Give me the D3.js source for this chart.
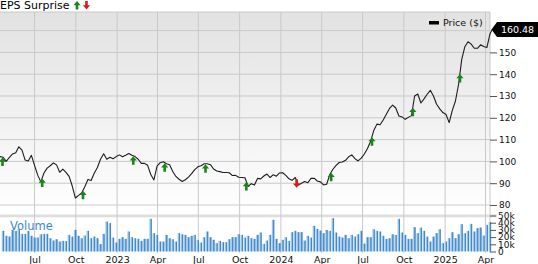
<!DOCTYPE html>
<html><head><meta charset="utf-8">
<script src="https://cdn.jsdelivr.net/npm/d3@7"></script>
<style>
html,body{margin:0;padding:0;background:#fff;}
svg{display:block;font-family:"DejaVu Sans",Verdana,sans-serif;}
</style></head><body>
<svg id="chart" width="538" height="264"></svg>
<script>
// ---------- DATA ----------
const startDate = new Date(2022, 3, 15);   // first weekly close
const endDate = new Date(2025, 3, 11);     // right edge of plot
const priceValues = [
  102.2, 101.9, 100.0, 101.9, 103.4, 104.0, 106.7, 105.2, 100.6, 100.2,
  102.8, 98.2, 93.7, 90.6, 94.7, 96.9, 98.0, 99.3, 98.4, 95.0,
  96.5, 95.0, 93.1, 88.7, 83.2, 84.4, 85.5, 88.4, 91.7, 91.2,
  94.6, 97.2, 101.0, 103.5, 101.0, 101.9, 101.2, 102.2, 103.0, 102.1,
  102.8, 103.6, 102.8, 102.2, 101.0, 99.1, 99.1, 98.2, 94.0, 91.5,
  97.8, 99.4, 99.8, 98.9, 98.5, 95.4, 93.1, 91.8, 90.8, 91.6,
  92.8, 94.4, 96.2, 97.5, 98.0, 98.9, 98.9, 98.5, 96.5, 95.6,
  95.3, 94.9, 94.9, 94.8, 93.5, 93.6, 92.7, 92.6, 92.5, 88.5,
  89.8, 89.2, 92.2, 92.0, 93.3, 94.2, 92.6, 93.9, 93.2, 94.7,
  94.8, 93.6, 92.0, 91.3, 92.6, 89.2, 90.0, 90.8, 90.2, 92.2,
  92.3, 91.0, 90.6, 89.2, 89.5, 94.0, 96.4, 98.2, 99.5, 99.7,
  100.5, 102.1, 103.0, 101.3, 100.2, 101.5, 103.4, 105.9, 109.2, 114.2,
  117.1, 116.8, 119.0, 121.6, 124.3, 125.8, 124.5, 120.8, 120.4, 119.3,
  120.2, 121.0, 130.0, 130.9, 126.8, 128.7, 130.8, 132.6, 130.0, 126.2,
  124.1, 122.4, 121.5, 117.8, 123.4, 127.7, 135.4, 146.8, 152.6, 154.9,
  153.8, 151.9, 151.9, 153.5, 152.7, 152.2, 158.5
];
const lastQuoteDate = new Date(2025, 3, 16);
const lastQuote = 160.48;

// weekly volume in thousands (starting with the 2nd week)
const volumeK = [
  28.7, 21.8, 20.8, 30, 28.7, 31, 24.5, 24.5, 28.7, 21.8,
  19.4, 19.4, 24, 24.5, 24.5, 18.5, 15.3, 17.1, 13.9, 14.8,
  14.4, 23.1, 20.8, 30, 21.8, 18.5, 22.2, 28.7, 18.5, 20.8,
  18.5, 10.2, 24.5, 41.7, 39.4, 19.4, 12.5, 17.6, 19.9, 17.6,
  27.8, 19.9, 18.5, 17.6, 14.8, 17.6, 17.6, 45.4, 25.5, 23.1,
  13.9, 13.9, 23.1, 18.5, 17.1, 13.9, 25.5, 24, 23.1, 19.9,
  21.8, 23.1, 16.2, 12.5, 19.9, 27.8, 19.9, 16.2, 11.6, 14.8,
  13, 13, 17.1, 19.9, 19.9, 24, 23.1, 19.4, 21.8, 18.5,
  17.6, 23.1, 26.4, 10.6, 15.3, 23.1, 44, 17.6, 11.6, 16.2,
  19.9, 14.8, 26.9, 28.7, 26.9, 26.9, 15.3, 21.8, 19.4, 35.6,
  31.5, 29.2, 25.5, 30, 28.7, 46.3, 26.4, 20.8, 19.4, 23.1,
  18.5, 23.1, 20.8, 24, 28.7, 11.1, 19.9, 19.9, 31, 28.7,
  27.8, 21.8, 17.6, 18.5, 24, 23.1, 45.4, 26.4, 23.1, 17.6,
  17.6, 33.8, 25.5, 33.3, 28.7, 20.8, 13.9, 20.8, 25.5, 31,
  11.6, 13.9, 18.5, 26.9, 18.5, 24, 38, 25.5, 28.7, 38.4,
  27.8, 32.4, 33.3, 22.2, 37, 40.7
];

const earningsDates = ["2022-04-19","2022-07-18","2022-10-17","2023-02-06","2023-04-17","2023-07-17",
                       "2023-10-16","2024-02-05","2024-04-22","2024-07-22","2024-10-21","2025-02-03"];
const earningsResult = ["beat","beat","beat","beat","beat","beat","beat","miss","beat","beat","beat","beat"];

const priceTicks = [80, 90, 100, 110, 120, 130, 140, 150, 160];
const volumeTicks = [0, 10, 20, 30, 40, 50];

// ---------- BUILD ----------
const svg = d3.select("#chart");
const plotL = 0, plotR = 490, plotT = 12, priceBottom = 214, volTop = 217, volBottom = 252;

const weekly = priceValues.map((v, i) => ({date: d3.timeWeek.offset(startDate, i), value: v}));
const series = weekly.concat([{date: lastQuoteDate, value: lastQuote}]);
const volData = volumeK.map((v, i) => ({date: d3.timeWeek.offset(startDate, i + 1), value: v}));

const x = d3.scaleTime().domain([startDate, endDate]).range([plotL, plotR]);
const y = d3.scaleLinear().domain([80, 160]).range([205, 30.6]);
const yv = d3.scaleLinear().domain([0, 50]).range([251.5, 215.5]);

const defs = svg.append("defs");
const bg = defs.append("linearGradient").attr("id", "bgGrad").attr("x1", 0).attr("x2", 0).attr("y1", 0).attr("y2", 1);
bg.append("stop").attr("offset", "0%").attr("stop-color", "#e2e2e2");
bg.append("stop").attr("offset", "100%").attr("stop-color", "#ffffff");
const vg = defs.append("linearGradient").attr("id", "volGrad").attr("x1", 0).attr("x2", 1).attr("y1", 0).attr("y2", 0);
vg.append("stop").attr("offset", "0%").attr("stop-color", "#b3d3f1");
vg.append("stop").attr("offset", "45%").attr("stop-color", "#8fbde8");
vg.append("stop").attr("offset", "55%").attr("stop-color", "#4a8fcc");
vg.append("stop").attr("offset", "100%").attr("stop-color", "#3b82c4");

// backgrounds
svg.append("rect").attr("x", plotL).attr("y", plotT).attr("width", plotR - plotL).attr("height", priceBottom - plotT)
  .attr("fill", "url(#bgGrad)");
svg.append("rect").attr("x", plotL).attr("y", 214.5).attr("width", 497).attr("height", 2.8).attr("fill", "#dedede");

// horizontal grid (price)
svg.append("g").selectAll("line").data(priceTicks).join("line")
  .attr("x1", plotL).attr("x2", plotR).attr("y1", d => y(d)).attr("y2", d => y(d))
  .attr("stroke", "#c9c9c9").attr("stroke-width", 1);
svg.append("line").attr("x1", plotL).attr("x2", plotR).attr("y1", plotT).attr("y2", plotT)
  .attr("stroke", "#c9c9c9").attr("stroke-width", 1.2);

// vertical grid
const qTicks = x.ticks(d3.timeMonth.every(3));
svg.append("g").selectAll("line").data(qTicks).join("line")
  .attr("x1", d => x(d)).attr("x2", d => x(d)).attr("y1", plotT).attr("y2", volBottom + 1)
  .attr("stroke", "#c9c9c9").attr("stroke-width", 1);
svg.append("line").attr("x1", plotR).attr("x2", plotR).attr("y1", plotT).attr("y2", volBottom + 1)
  .attr("stroke", "#c9c9c9").attr("stroke-width", 1);

// volume bars
svg.append("g").selectAll("rect").data(volData).join("rect")
  .attr("x", d => x(d.date) - 1.5).attr("width", 2.6)
  .attr("y", d => yv(d.value)).attr("height", d => yv(0) - yv(d.value))
  .attr("fill", "url(#volGrad)");

svg.append("text").attr("x", 10).attr("y", 230).attr("font-size", 11.5).attr("fill", "#3a8bd0").text("Volume");

// price line
const line = d3.line().x(d => x(d.date)).y(d => y(d.value));
svg.append("path").datum(series).attr("d", line).attr("fill", "none")
  .attr("stroke", "#1c1c1c").attr("stroke-width", 1.1).attr("stroke-linejoin", "round");

// earnings arrows
const bis = d3.bisector(d => d.date).left;
function priceAt(date) {
  const i = Math.max(1, Math.min(series.length - 1, bis(series, date)));
  const a = series[i - 1], b = series[i];
  const t = (date - a.date) / (b.date - a.date);
  return a.value + (b.value - a.value) * Math.max(0, Math.min(1, t));
}
function arrowPath(cx, top, up) {
  if (up) return `M${cx},${top} L${cx + 3.6},${top + 4.2} L${cx + 1.3},${top + 4.2} L${cx + 1.3},${top + 8.5} L${cx - 1.3},${top + 8.5} L${cx - 1.3},${top + 4.2} L${cx - 3.6},${top + 4.2} Z`;
  return `M${cx - 1.3},${top} L${cx + 1.3},${top} L${cx + 1.3},${top + 4.3} L${cx + 3.6},${top + 4.3} L${cx},${top + 8.5} L${cx - 3.6},${top + 4.3} L${cx - 1.3},${top + 4.3} Z`;
}
const earn = earningsDates.map((s, i) => ({date: d3.timeParse("%Y-%m-%d")(s), res: earningsResult[i]}));
svg.append("g").selectAll("path").data(earn).join("path")
  .attr("d", d => arrowPath(Math.max(2.5, x(d.date)), y(priceAt(d.date)) + (d.res === "beat" ? 0.5 : -1.5), d.res === "beat"))
  .attr("fill", d => d.res === "beat" ? "#17871a" : "#e8161c");

// right price axis
const yAxis = d3.axisRight(y).tickValues(priceTicks.slice(0, -1)).tickSize(7).tickPadding(2).tickFormat(d3.format("d"));
const gy = svg.append("g").attr("transform", `translate(${plotR},0)`).call(yAxis);
gy.select(".domain").remove();
gy.selectAll("line").attr("stroke", "#555");
gy.selectAll("text").attr("font-size", 9).attr("fill", "#111").attr("font-family", "DejaVu Sans, Verdana, sans-serif");

// right volume axis
const vAxis = d3.axisRight(yv).tickValues(volumeTicks).tickSize(6).tickPadding(2).tickFormat(d => d === 0 ? "0" : d + "k");
const gv = svg.append("g").attr("transform", `translate(${plotR},0)`).call(vAxis);
gv.select(".domain").remove();
gv.selectAll("line").attr("stroke", "#555");
gv.selectAll("text").attr("font-size", 9).attr("fill", "#111").attr("font-family", "DejaVu Sans, Verdana, sans-serif");

// bottom time axis
const fmt = d => d.getMonth() === 0 ? d3.timeFormat("%Y")(d) : d3.timeFormat("%b")(d);
const xAxis = d3.axisBottom(x).tickValues(qTicks).tickSize(0).tickPadding(4).tickFormat(fmt);
const gx = svg.append("g").attr("transform", `translate(0,${volBottom})`).call(xAxis);
gx.select(".domain").remove();
gx.selectAll("text").attr("font-size", 9.5).attr("fill", "#111").attr("font-family", "DejaVu Sans, Verdana, sans-serif");

// last price tag
const ty = y(lastQuote);
svg.append("path").attr("d", `M${plotR + 1.5},${ty} L${plotR + 7},${ty - 7.5} L538,${ty - 7.5} L538,${ty + 7.5} L${plotR + 7},${ty + 7.5} Z`).attr("fill", "#000");
svg.append("text").attr("x", 517.5).attr("y", ty).attr("dy", "0.36em").attr("text-anchor", "middle")
  .attr("font-size", 9.5).attr("fill", "#fff").text(d3.format(".2f")(lastQuote));

// legend: Price ($)
svg.append("rect").attr("x", 429).attr("y", 21).attr("width", 10).attr("height", 3.5).attr("fill", "#000");
svg.append("text").attr("x", 443).attr("y", 23).attr("dy", "0.35em").attr("font-size", 9.5).attr("fill", "#111").text("Price ($)");

// legend: EPS Surprise
svg.append("text").attr("x", 0).attr("y", 9).attr("font-size", 11).attr("fill", "#000").text("EPS Surprise");
svg.append("path").attr("d", arrowPath(77, 1, true)).attr("fill", "#17871a");
svg.append("path").attr("d", arrowPath(86.5, 1, false)).attr("fill", "#e8161c");
</script>
</body></html>
